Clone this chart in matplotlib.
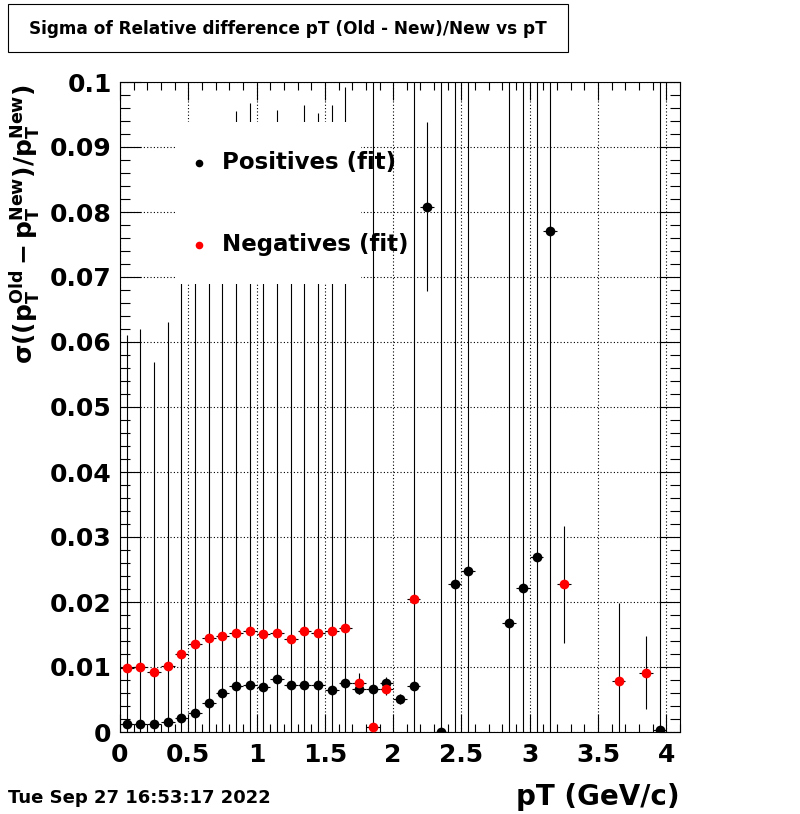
import matplotlib
matplotlib.use("Agg")
import matplotlib.pyplot as plt
from matplotlib.patches import Rectangle
from matplotlib.ticker import MultipleLocator, FormatStrFormatter

# ---------------- data ----------------
pos_x = [0.05, 0.15, 0.25, 0.35, 0.45, 0.55, 0.65, 0.75, 0.85, 0.95, 1.05, 1.15,
         1.25, 1.35, 1.45, 1.55, 1.65, 1.75, 1.85, 1.95, 2.05, 2.15, 2.25, 2.35,
         2.45, 2.55, 2.85, 2.95, 3.05, 3.15, 3.95]
pos_y = [0.0012, 0.0012, 0.0012, 0.0016, 0.0021, 0.0030, 0.0044, 0.0060, 0.0071,
         0.0073, 0.0069, 0.0082, 0.0073, 0.0073, 0.0073, 0.0065, 0.0075, 0.0066,
         0.0066, 0.0076, 0.0051, 0.0071, 0.0808, 0.0, 0.0228, 0.0247, 0.0168,
         0.0222, 0.0270, 0.0771, 0.0003]
pos_err = [0.0599, 0.0608, 0.0558, 0.0615, 0.080, 0.082, 0.078, 0.085, 0.0884,
           0.0895, 0.081, 0.0875, 0.083, 0.0891, 0.0879, 0.0900, 0.0918, 0.0008,
           0.15, 0.0008, 0.0008, 0.15, 0.0130, 0.15, 0.15, 0.15, 0.15, 0.15,
           0.15, 0.15, 0.15]

neg_x = [0.05, 0.15, 0.25, 0.35, 0.45, 0.55, 0.65, 0.75, 0.85, 0.95, 1.05, 1.15,
         1.25, 1.35, 1.45, 1.55, 1.65, 1.75, 1.85, 1.95, 2.15, 3.25, 3.65, 3.85]
neg_y = [0.0099, 0.0100, 0.0092, 0.0101, 0.0120, 0.0135, 0.0144, 0.0147, 0.0153,
         0.0155, 0.0151, 0.0153, 0.0143, 0.0155, 0.0153, 0.0155, 0.0160, 0.0075,
         0.0008, 0.0066, 0.0205, 0.0227, 0.0078, 0.0091]
neg_err = [0.0004, 0.0004, 0.0004, 0.0004, 0.0004, 0.0004, 0.0004, 0.0004, 0.0004,
           0.0004, 0.0004, 0.0004, 0.0004, 0.0004, 0.0004, 0.0004, 0.0004, 0.0016,
           0.0004, 0.0009, 0.0005, 0.0090, 0.0121, 0.0056]
bin_half = 0.05

title = "Sigma of Relative difference pT (Old - New)/New vs pT"
date_text = "Tue Sep 27 16:53:17 2022"
xlabel = "pT (GeV/c)"
ylabel = r"$\sigma((p_{T}^{Old} - p_{T}^{New})/p_{T}^{New})$"
labels = ["Positives (fit)", "Negatives (fit)"]

# ---------------- figure ----------------
plt.rcParams['font.family'] = ['DejaVu Sans']
plt.rcParams['mathtext.fontset'] = 'dejavusans'
plt.rcParams['mathtext.default'] = 'bf'

W, H = 800, 814
fig = plt.figure(figsize=(W / 100, H / 100), dpi=100)
ax = fig.add_axes([120 / W, 1 - 732 / H, 560 / W, 650 / H])

ax.errorbar(pos_x, pos_y, yerr=pos_err, xerr=bin_half, fmt='o', color='black',
            ecolor='black', elinewidth=0.8, ms=7, mec='none', capsize=0, zorder=3)
ax.errorbar(neg_x, neg_y, yerr=neg_err, xerr=bin_half, fmt='o', color='red',
            ecolor='black', elinewidth=0.8, ms=7, mec='none', capsize=0, zorder=3)

ax.set_xlim(0, 4.1)
ax.set_ylim(0, 0.1)
ax.xaxis.set_major_locator(MultipleLocator(0.5))
ax.xaxis.set_minor_locator(MultipleLocator(0.1))
ax.yaxis.set_major_locator(MultipleLocator(0.01))
ax.yaxis.set_minor_locator(MultipleLocator(0.002))
ax.xaxis.set_major_formatter(FormatStrFormatter('%g'))
ax.yaxis.set_major_formatter(FormatStrFormatter('%g'))
ax.tick_params(which='both', direction='in', top=True, right=True, width=0.8,
               labelsize=18)
ax.tick_params(axis='y', which='major', length=15, pad=6)
ax.tick_params(axis='y', which='minor', length=7.5)
ax.tick_params(axis='x', which='major', length=13, pad=8)
ax.tick_params(axis='x', which='minor', length=6)
for lab in ax.get_xticklabels() + ax.get_yticklabels():
    lab.set_fontweight('bold')
for s in ax.spines.values():
    s.set_linewidth(0.8)
ax.grid(True, which='major', linestyle=(0, (1, 2)), color='black', linewidth=0.8)
ax.set_axisbelow(True)

# legend box (white, borderless)
ax.add_patch(Rectangle((55 / 560, (732 - 284) / 650), 186 / 560, 162 / 650,
                       transform=ax.transAxes, facecolor='white', edgecolor='none',
                       zorder=5))
for i, (lab, col) in enumerate(zip(labels, ['black', 'red'])):
    yy = (732 - (163 + 82 * i)) / 650
    ax.plot([79 / 560], [yy], 'o', color=col, ms=5.5, mec='none',
            transform=ax.transAxes, zorder=6, clip_on=False)
    ax.text(102 / 560, yy, lab, transform=ax.transAxes, fontsize=16.5,
            fontweight='bold', va='center', ha='left', zorder=6)

# title box
fig.patches.append(Rectangle((8 / W, 1 - 52 / H), 560 / W, 48 / H,
                             transform=fig.transFigure, facecolor='white',
                             edgecolor='black', linewidth=0.8))
fig.text(288 / W, 1 - 29 / H, title, ha='center', va='center', fontsize=12.2,
         fontweight='bold')

fig.text(25 / W, 1 - 84 / H, ylabel, rotation=90, ha='center', va='top',
         fontsize=18)
fig.text(680 / W, 1 - 797 / H, xlabel, ha='right', va='center', fontsize=20,
         fontweight='bold')
fig.text(8 / W, 1 - 798 / H, date_text, ha='left', va='center', fontsize=13,
         fontweight='bold')

fig.savefig("out.png", dpi=100)
